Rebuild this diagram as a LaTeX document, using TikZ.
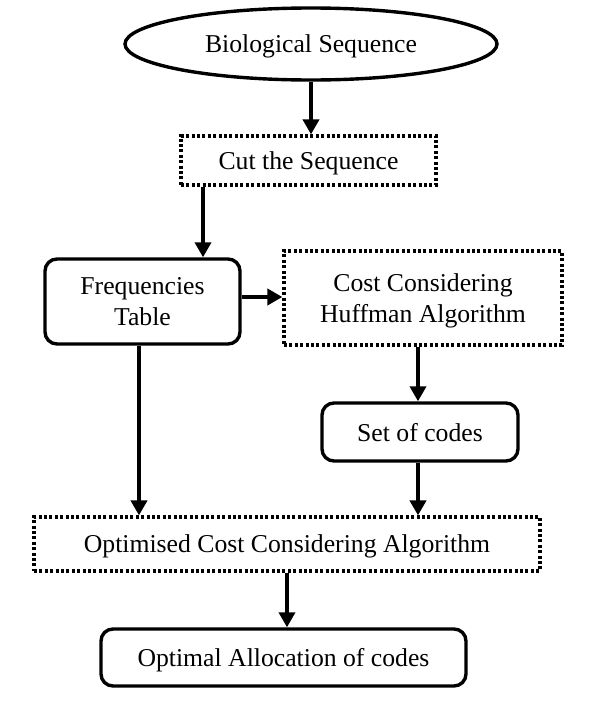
\documentclass[tikz,border=0pt]{standalone}
\usepackage{fontspec}
\setmainfont{Liberation Serif}
\usetikzlibrary{shapes.geometric,arrows.meta}
\begin{document}
\begin{tikzpicture}[x=1pt,y=-1pt,
  every node/.style={font=\fontsize{25.7}{31}\selectfont, inner sep=0pt, align=center, text depth=0pt},
  solidbox/.style={draw, line width=3.4pt, rounded corners=12pt},
  dotbox/.style={draw, line width=3.2pt, dash pattern=on 3pt off 2.4pt},
  oval/.style={draw, ellipse, line width=3.4pt},
  arr/.style={line width=3.8pt, -{Triangle[length=15pt,width=16pt]}}]
\useasboundingbox (0,0) rectangle (603,707);
\node[oval, minimum width=372pt, minimum height=72pt] (bio) at (311,44) {Biological Sequence};
\node[dotbox, minimum width=255pt, minimum height=49pt] (cut) at (308.5,160.5) {Cut the Sequence};
\node[solidbox, minimum width=195pt, minimum height=85pt] (freq) at (142.5,301.5) {Frequencies\\Table};
\node[dotbox, minimum width=278pt, minimum height=94pt] (huff) at (423,298) {Cost Considering\\Huffman Algorithm};
\node[solidbox, minimum width=196pt, minimum height=58pt] (set) at (420,432) {Set of codes};
\node[dotbox, minimum width=506pt, minimum height=54pt] (opt) at (287,544) {Optimised Cost Considering Algorithm};
\node[solidbox, minimum width=365pt, minimum height=57pt] (alloc) at (283.5,657.5) {Optimal Allocation of codes};
\draw[arr] (bio.south -| 311,0) -- (cut.north -| 311,0);
\draw[arr] (cut.south -| 203,0) -- (freq.north -| 203,0);
\draw[arr] (freq.east |- 0,297) -- (huff.west |- 0,297);
\draw[arr] (huff.south -| 418,0) -- (set.north -| 418,0);
\draw[arr] (freq.south -| 139,0) -- (opt.north -| 139,0);
\draw[arr] (set.south -| 418,0) -- (opt.north -| 418,0);
\draw[arr] (opt.south -| 287,0) -- (alloc.north -| 287,0);
\end{tikzpicture}
\end{document}
